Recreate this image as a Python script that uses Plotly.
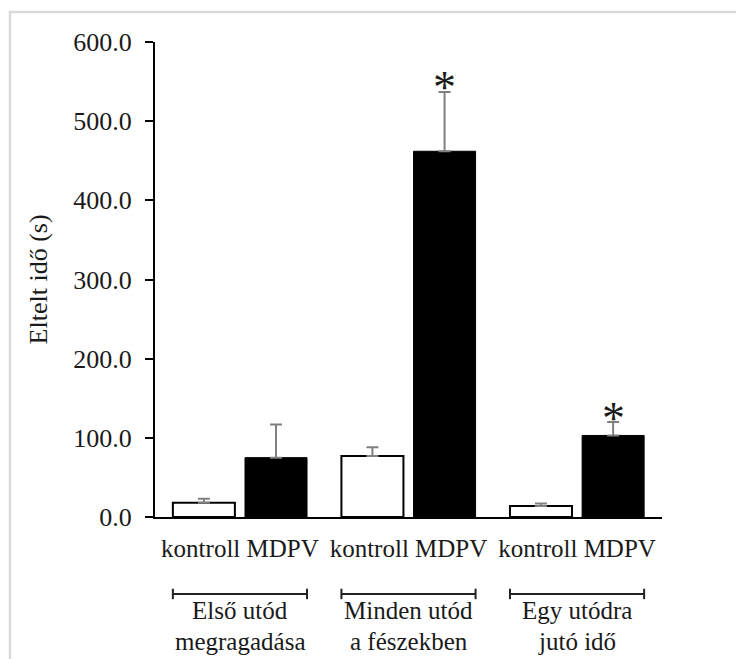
import plotly.graph_objects as go

# ---- data ----
group_line1 = ["Első utód", "Minden utód", "Egy utódra"]
group_line2 = ["megragadása", "a fészekben", "jutó idő"]
series_names = ["kontroll", "MDPV"]
kontroll_mean = [18.0, 77.0, 14.0]
kontroll_err = [5.0, 11.0, 3.0]
mdpv_mean = [75.0, 462.0, 103.0]
mdpv_err = [42.0, 75.0, 17.0]
significant = [False, True, True]  # MDPV vs kontroll
y_ticks = [0, 100, 200, 300, 400, 500, 600]
y_title = "Eltelt idő (s)"

FONT = "Liberation Serif"
TXT = "#1a1a1a"
OFF = 0.214
W = 0.368

gi = list(range(len(group_line1)))
xk = [g - OFF for g in gi]
xm = [g + OFF for g in gi]

fig = go.Figure()
fig.add_trace(go.Bar(
    x=xk, y=kontroll_mean, width=W, name=series_names[0],
    marker=dict(color="white", line=dict(color="black", width=2)),
    error_y=dict(type="data", symmetric=False, array=kontroll_err,
                 arrayminus=[0] * 3, color="#808080", thickness=2, width=6),
))
fig.add_trace(go.Bar(
    x=xm, y=mdpv_mean, width=W, name=series_names[1],
    marker=dict(color="black", line=dict(color="black", width=1)),
    error_y=dict(type="data", symmetric=False, array=mdpv_err,
                 arrayminus=[0] * 3, color="#808080", thickness=2, width=6),
))

annotations = []
for g in gi:
    if significant[g]:
        annotations.append(dict(
            x=xm[g], y=mdpv_mean[g] + mdpv_err[g], xref="x", yref="y",
            text="*", showarrow=False, yanchor="middle", yshift=4,
            font=dict(family=FONT, size=46, color=TXT),
        ))
    annotations.append(dict(
        x=g, y=-0.197, xref="x", yref="paper", text=group_line1[g],
        showarrow=False, yanchor="middle",
        font=dict(family=FONT, size=25, color=TXT),
    ))
    annotations.append(dict(
        x=g, y=-0.263, xref="x", yref="paper", text=group_line2[g],
        showarrow=False, yanchor="middle",
        font=dict(family=FONT, size=25, color=TXT),
    ))

annotations.append(dict(
    x=-0.229, y=0.5, xref="paper", yref="paper", text=y_title,
    textangle=-90, showarrow=False, xanchor="center", yanchor="middle",
    font=dict(family=FONT, size=26, color=TXT),
))

shapes = []
by = -0.162
cap = 0.011
for g in gi:
    x0 = g - OFF - W / 2
    x1 = g + OFF + W / 2
    shapes.append(dict(type="line", xref="x", yref="paper", x0=x0, x1=x1,
                       y0=by, y1=by, line=dict(color="#222222", width=2)))
    for xx in (x0, x1):
        shapes.append(dict(type="line", xref="x", yref="paper", x0=xx, x1=xx,
                           y0=by - cap, y1=by + cap,
                           line=dict(color="#222222", width=2)))

# outer light frame
shapes.append(dict(type="rect", xref="paper", yref="paper",
                   x0=-0.286, x1=1.3, y0=-0.4, y1=1.063,
                   line=dict(color="#d9d9d9", width=2.5), layer="below"))

fig.update_layout(
    width=736, height=659,
    margin=dict(l=155, r=74, t=42, b=142),
    paper_bgcolor="white", plot_bgcolor="white",
    showlegend=False,
    font=dict(family=FONT, size=24, color=TXT),
    annotations=annotations,
    shapes=shapes,
    xaxis=dict(
        range=[-0.504, 2.504],
        tickvals=gi,
        ticktext=[f"{series_names[0]} {series_names[1]}" for _ in gi],
        showline=True, linecolor="black", linewidth=2,
        ticks="", showgrid=False, zeroline=False,
        tickfont=dict(family=FONT, size=25, color=TXT),
        ticklabelstandoff=8,
    ),
    yaxis=dict(
        range=[0, 600],
        tickvals=y_ticks, tickformat=".1f",
        showline=True, linecolor="black", linewidth=2,
        ticks="outside", ticklen=8, tickwidth=2, tickcolor="black",
        showgrid=False, zeroline=False,
        tickfont=dict(family=FONT, size=26, color=TXT),
        ticklabelstandoff=8,
    ),
)

fig.write_html("out.html", config={"displayModeBar": False},
               post_script="document.body.style.margin='0';")
